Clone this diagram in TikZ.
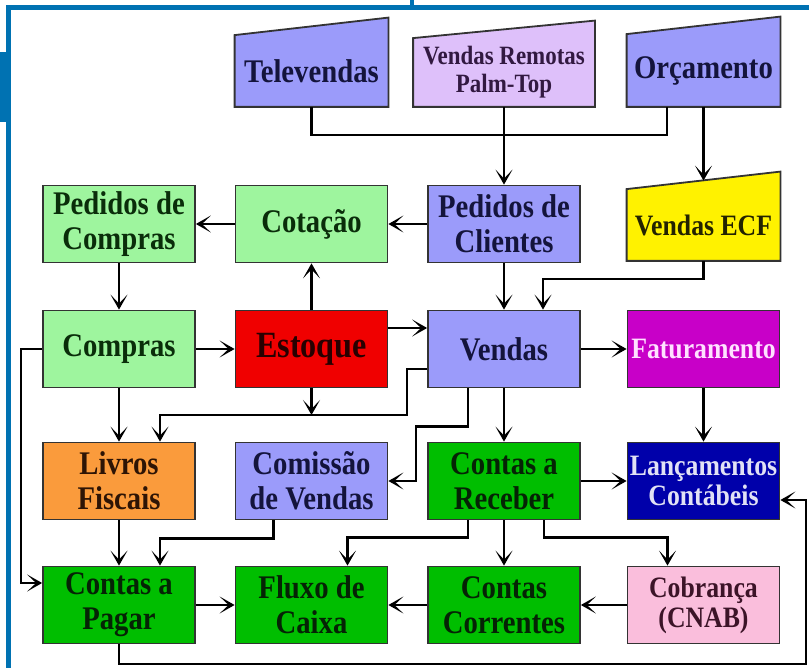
\documentclass[tikz,border=0pt]{standalone}
\usepackage{fontspec}
\setmainfont{Liberation Serif}[FakeStretch=0.87]
\usetikzlibrary{arrows.meta,backgrounds}

\definecolor{frameblue}{RGB}{0,114,178}
\definecolor{lavblue}{RGB}{155,155,250}
\definecolor{lilac}{RGB}{222,192,250}
\definecolor{lgreen}{RGB}{158,245,158}
\definecolor{dgreen}{RGB}{0,190,0}
\definecolor{stockred}{RGB}{240,0,0}
\definecolor{fatmagenta}{RGB}{200,0,200}
\definecolor{booksorange}{RGB}{250,155,60}
\definecolor{lancnavy}{RGB}{0,0,170}
\definecolor{cnabpink}{RGB}{250,190,220}
\definecolor{lavtext}{RGB}{20,20,60}
\definecolor{liltext}{RGB}{50,25,65}
\definecolor{gtext}{RGB}{10,45,10}
\definecolor{dgtext}{RGB}{5,35,5}
\definecolor{redtext}{RGB}{40,0,0}
\definecolor{ortext}{RGB}{45,20,5}
\definecolor{magtext}{RGB}{255,225,255}
\definecolor{navtext}{RGB}{225,225,245}
\definecolor{pinktext}{RGB}{60,20,40}
\definecolor{ecftext}{RGB}{35,35,0}

\tikzset{
  box/.style={draw=black!80, line width=0.9pt, minimum width=76pt, minimum height=38.5pt,
    inner sep=0pt, align=center, font=\fontsize{16.5}{17.5}\selectfont\bfseries},
  small/.style={font=\fontsize{14.8}{15}\selectfont\bfseries},
  inbox/.style={box, draw=none, fill=none, minimum height=35pt},
  lavbox/.style={box, fill=lavblue, text=lavtext},
  lgbox/.style={box, fill=lgreen, text=gtext},
  dgbox/.style={box, fill=dgreen, text=dgtext},
  redbox/.style={box, fill=stockred, text=redtext, font=\fontsize{18.5}{20}\selectfont\bfseries},
  magbox/.style={box, small, fill=fatmagenta, text=magtext},
  orbox/.style={box, fill=booksorange, text=ortext},
  navbox/.style={box, small, fill=lancnavy, text=navtext},
  pinkbox/.style={box, small, fill=cnabpink, text=pinktext},
  wire/.style={line width=1.25pt},
  flow/.style={wire, -{Stealth[length=7.5pt,width=8.5pt,inset=4.5pt]}}
}

\begin{document}
\begin{tikzpicture}[x=0.5pt, y=-0.5pt]
  \useasboundingbox (0,0) rectangle (809,668);

  % frame
  \fill[frameblue] (0,52) rectangle (6,122);
  \draw[frameblue, line width=2.5pt] (8.5,668) -- (8.5,7.5) -- (809,7.5);
  \draw[frameblue, line width=2pt] (412,0) -- (412,7.5);

  % input boxes, shapes drawn on the background layer below
  \node[inbox, text=lavtext] (tele) at (311.5,71) {Televendas};
  \node[inbox, text=liltext, minimum width=90pt, minimum height=33.5pt,
    font=\fontsize{13.2}{14}\selectfont\bfseries] (palm) at (504,72.5) {Vendas Remotas\\Palm-Top};
  \node[inbox, text=lavtext, minimum height=35.5pt] (orca) at (703.5,70.5) {Orçamento};
  \node[inbox, small, text=ecftext] (ecf) at (703.5,225) {Vendas ECF};

  % modules
  \foreach \nm/\px/\py/\st/\txt in {
      pcomp/119/224/lgbox/{Pedidos de\\Compras}, cot/311.5/224/lgbox/{Cotação},
      pcli/504/224/lavbox/{Pedidos de\\Clientes},
      compras/119/349/lgbox/{Compras}, estoque/311.5/349/redbox/{Estoque},
      vendas/504/349/lavbox/{Vendas}, fatur/703.5/349/magbox/{Faturamento},
      livros/119/481/orbox/{Livros\\Fiscais}, comis/311.5/481/lavbox/{Comissão\\de Vendas},
      crec/504/481/dgbox/{Contas a\\Receber}, lanc/703.5/481/navbox/{Lançamentos\\Contábeis},
      cpag/119/605/dgbox/{Contas a\\Pagar}, fluxo/311.5/605/dgbox/{Fluxo de\\Caixa},
      ccor/504/605/dgbox/{Contas\\Correntes}, cobr/703.5/605/pinkbox/{Cobrança\\(CNAB)}}
    \node[\st] (\nm) at (\px,\py) {\txt};

  \begin{scope}[on background layer]
    \fill[white] (0,0) rectangle (809,668);
    \foreach \nm/\col in {tele/lavblue, palm/lilac, orca/lavblue, ecf/yellow}
      \draw[fill=\col, draw=black!80, line width=0.9pt] (\nm.south west) -- (\nm.south east)
        -- ([yshift=8.75pt]\nm.north east) -- (\nm.north west) -- cycle;
  \end{scope}

  % top feeds
  \coordinate (feed) at (504,135);
  \draw[wire] (tele.south) |- (feed);
  \draw[wire] ([xshift=-18.25pt]orca.south) |- (feed);
  \draw[flow] (palm) -- (pcli);
  \draw[flow] (orca.south) -- ([yshift=4.25pt]ecf.north);

  % purchasing
  \draw[flow] (pcli) -- (cot);
  \draw[flow] (cot) -- (pcomp);
  \draw[flow] (pcomp) -- (compras);
  \draw[flow] (estoque) -- (cot);
  \draw[flow] (compras) -- (estoque);
  \draw[flow] (compras.west) -- ++(-21,0) |- ([yshift=11pt]cpag.west);
  \draw[flow] (compras) -- (livros);

  % sales
  \draw[flow] ([yshift=10.5pt]estoque.east) -- ([yshift=10.5pt]vendas.west);
  \draw[flow] (pcli) -- (vendas);
  \draw[flow] (ecf.south) -- ++(0,18) -| ([xshift=19.5pt]vendas.north);
  \draw[flow] (vendas) -- (fatur);
  \draw[flow] (fatur) -- (lanc);
  \coordinate (fisc) at (311.5,415);
  \draw[flow] (estoque) -- (fisc);
  \draw[flow] ([yshift=-10pt]vendas.west) -- ++(-20,0) |- (fisc) -| ([xshift=20.5pt]livros.north);
  \draw[flow] ([xshift=-18pt]vendas.south) |- ++(-52,38) |- (comis.east);

  % receivables
  \draw[flow] (vendas) -- (crec);
  \draw[flow] (crec) -- (lanc);
  \draw[flow] ([xshift=-18pt]crec.south) -- ++(0,17) -| ([xshift=18pt]fluxo.north);
  \draw[flow] (crec) -- (ccor);
  \draw[flow] ([xshift=20pt]crec.south) -- ++(0,17) -| ([xshift=-18pt]cobr.north);
  \draw[flow] (cobr) -- (ccor);
  \draw[flow] (ccor) -- (fluxo);

  % payables
  \draw[flow] (livros) -- (cpag);
  \draw[flow] ([xshift=-19pt]comis.south) -- ++(0,18) -| ([xshift=20.5pt]cpag.north);
  \draw[flow] (cpag) -- (fluxo);
  \coordinate (rbend) at (806,664);
  \draw[flow] (cpag.south) |- (rbend) |- ([yshift=-9.5pt]lanc.east);
\end{tikzpicture}
\end{document}
